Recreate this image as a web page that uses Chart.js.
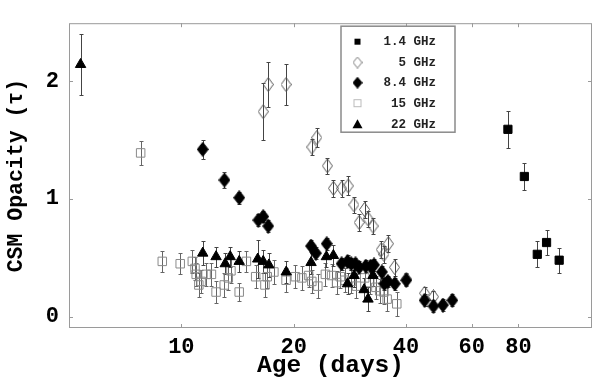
<!DOCTYPE html>
<html><head><meta charset="utf-8">
<script src="https://cdn.jsdelivr.net/npm/chart.js@4.4.1/dist/chart.umd.min.js"></script>
<style>html,body{margin:0;padding:0;background:#fff;}canvas{display:block;}</style>
</head><body>
<canvas id="c" width="600" height="381"></canvas>
<script>
// ---- tick labels ----
const xTicks = [10, 20, 40, 60, 80];
const yTicks = [0, 1, 2];
const seriesNames = ['1.4 GHz', '5 GHz', '8.4 GHz', '15 GHz', '22 GHz'];

// ---- 1.4 GHz ----
const days14 = [75.0, 83.0, 89.9, 95.2, 102.9];
const tau14  = [1.59, 1.19, 0.53, 0.63, 0.48];
const err14  = [0.155, 0.115, 0.11, 0.11, 0.105];

// ---- 5 GHz ----
const days5 = [16.57, 17.09, 19.08, 22.37, 23.06, 24.62, 25.55, 26.88, 28.0, 29.0, 29.95, 30.97, 31.64, 32.63, 34.32, 34.89, 35.86, 37.26, 40.06, 44.85, 47.38];
const tau5  = [1.74, 1.97, 1.97, 1.44, 1.52, 1.28, 1.09, 1.09, 1.11, 0.95, 0.80, 0.91, 0.83, 0.77, 0.57, 0.53, 0.62, 0.42, 0.32, 0.20, 0.17];
const err5  = [0.24, 0.19, 0.17, 0.07, 0.08, 0.07, 0.07, 0.07, 0.08, 0.07, 0.07, 0.07, 0.07, 0.07, 0.07, 0.07, 0.07, 0.07, 0.05, 0.05, 0.05];

// ---- 8.4 GHz ----
const days84 = [11.41, 13.05, 14.29, 16.08, 16.57, 17.09, 22.26, 22.93, 24.52, 26.88, 27.88, 28.52, 29.28, 29.95, 31.2, 32.17, 32.83, 34.47, 35.0, 35.76, 37.33, 40.06, 44.85, 47.38, 50.22, 53.22];
const tau84  = [1.42, 1.16, 1.01, 0.82, 0.85, 0.77, 0.60, 0.54, 0.62, 0.45, 0.47, 0.45, 0.45, 0.42, 0.43, 0.43, 0.44, 0.38, 0.28, 0.30, 0.28, 0.31, 0.14, 0.09, 0.10, 0.14];
const err84  = [0.08, 0.07, 0.05, 0.05, 0.05, 0.05, 0.05, 0.05, 0.05, 0.05, 0.05, 0.05, 0.05, 0.05, 0.05, 0.05, 0.05, 0.05, 0.05, 0.05, 0.05, 0.05, 0.05, 0.05, 0.05, 0.05];

// ---- 15 GHz ----
const days15 = [7.78, 8.89, 9.93, 10.70, 10.88, 10.96, 11.14, 11.30, 11.65, 12.04, 12.39, 13.03, 13.36, 13.58, 14.29, 14.94, 15.82, 16.75, 16.99, 17.70, 19.08, 20.21, 21.04, 21.93, 22.37, 23.21, 24.32, 25.27, 26.06, 26.66, 27.44, 28.57, 29.46, 31.0, 31.97, 33.22, 34.0, 34.89, 35.6, 37.78];
const tau15  = [1.39, 0.47, 0.45, 0.47, 0.41, 0.36, 0.27, 0.30, 0.36, 0.36, 0.21, 0.27, 0.33, 0.39, 0.21, 0.47, 0.34, 0.27, 0.34, 0.38, 0.31, 0.34, 0.33, 0.35, 0.30, 0.26, 0.36, 0.35, 0.29, 0.34, 0.31, 0.30, 0.26, 0.33, 0.29, 0.25, 0.22, 0.21, 0.15, 0.11];
const err15  = [0.10, 0.09, 0.09, 0.10, 0.10, 0.10, 0.10, 0.10, 0.10, 0.10, 0.09, 0.10, 0.10, 0.10, 0.08, 0.09, 0.10, 0.10, 0.10, 0.10, 0.10, 0.10, 0.10, 0.10, 0.10, 0.10, 0.10, 0.10, 0.10, 0.10, 0.10, 0.10, 0.10, 0.10, 0.10, 0.10, 0.10, 0.10, 0.10, 0.10];

// ---- 22 GHz ----
const days22 = [5.37, 11.41, 12.39, 13.11, 13.52, 14.29, 16.02, 16.57, 17.16, 19.10, 22.26, 24.47, 25.55, 27.88, 29.04, 30.88, 31.64, 32.63];
const tau22  = [2.14, 0.54, 0.51, 0.45, 0.51, 0.47, 0.49, 0.47, 0.44, 0.38, 0.46, 0.51, 0.52, 0.28, 0.35, 0.23, 0.15, 0.35];
const err22  = [0.26, 0.10, 0.085, 0.09, 0.085, 0.09, 0.16, 0.10, 0.10, 0.09, 0.10, 0.09, 0.09, 0.09, 0.10, 0.10, 0.10, 0.09];

const FONT = "'Liberation Mono', 'Courier New', monospace";
const pts = (xs, ys) => xs.map((d, i) => ({x: d, y: ys[i]}));

function diamondCanvas(w, h, fill, stroke) {
  const c = document.createElement('canvas'); c.width = w; c.height = h;
  const g = c.getContext('2d');
  g.beginPath(); g.moveTo(w/2, 0.5); g.lineTo(w-0.5, h/2); g.lineTo(w/2, h-0.5); g.lineTo(0.5, h/2); g.closePath();
  if (fill) { g.fillStyle = fill; g.fill(); }
  if (stroke) { g.strokeStyle = stroke; g.lineWidth = 1; g.stroke(); }
  return c;
}
const openDiamond = diamondCanvas(11, 15, null, '#555');
const solidDiamond = diamondCanvas(12, 15, '#000', '#000');

const extras = {
  id: 'extras',
  beforeDatasetsDraw(chart) {
    const ctx = chart.ctx, ys = chart.scales.y;
    chart.data.datasets.forEach((ds, i) => {
      if (!ds.errors) return;
      const meta = chart.getDatasetMeta(i);
      ctx.save();
      ctx.strokeStyle = ds.errorColor; ctx.lineWidth = 1;
      ctx.beginPath();
      meta.data.forEach((pt, j) => {
        const v = ds.data[j].y, e = ds.errors[j];
        const t = Math.round(ys.getPixelForValue(v + e)) + 0.5;
        const b = Math.round(ys.getPixelForValue(v - e)) + 0.5;
        const x = Math.round(pt.x) + 0.5;
        ctx.moveTo(x, t); ctx.lineTo(x, b);
        ctx.moveTo(x - 2, t); ctx.lineTo(x + 2, t);
        ctx.moveTo(x - 2, b); ctx.lineTo(x + 2, b);
      });
      ctx.stroke();
      ctx.restore();
    });
  },
  afterDraw(chart) {
    const ctx = chart.ctx, a = chart.chartArea, xs = chart.scales.x, ys = chart.scales.y;
    ctx.save();
    ctx.strokeStyle = '#9a9a9a'; ctx.lineWidth = 1;
    ctx.strokeRect(a.left + 0.5, a.top + 0.5, a.right - a.left - 1, a.bottom - a.top - 1);
    ctx.beginPath();
    xTicks.forEach(v => {
      const px = Math.round(xs.getPixelForValue(v)) + 0.5;
      ctx.moveTo(px, a.bottom); ctx.lineTo(px, a.bottom - 4);
      ctx.moveTo(px, a.top); ctx.lineTo(px, a.top + 4);
    });
    yTicks.forEach(v => {
      const py = Math.round(ys.getPixelForValue(v)) + 0.5;
      ctx.moveTo(a.left, py); ctx.lineTo(a.left + 4, py);
      ctx.moveTo(a.right, py); ctx.lineTo(a.right - 4, py);
    });
    ctx.stroke();

    // legend box
    const L = {x0: a.left + 272, y0: a.top + 3, x1: a.left + 386, y1: a.top + 109};
    ctx.fillStyle = '#fff';
    ctx.fillRect(L.x0, L.y0, L.x1 - L.x0, L.y1 - L.y0);
    ctx.strokeStyle = '#8a8a8a'; ctx.lineWidth = 1.5;
    ctx.strokeRect(L.x0, L.y0, L.x1 - L.x0, L.y1 - L.y0);
    const rows = [L.y0 + 15.5, L.y0 + 36.3, L.y0 + 56.5, L.y0 + 77, L.y0 + 98];
    const mx = L.x0 + 16.5;
    ctx.font = "bold 12.5px " + FONT;
    ctx.textAlign = 'right'; ctx.textBaseline = 'middle';
    seriesNames.forEach((name, i) => {
      const y = rows[i];
      ctx.fillStyle = '#222';
      ctx.fillText(name, L.x0 + 95, y + 0.5);
      ctx.lineWidth = 1;
      if (i === 0) { ctx.fillStyle = '#000'; ctx.fillRect(mx - 3, y - 3, 6, 6); }
      else if (i === 1) { ctx.drawImage(diamondCanvas(10, 12, null, '#777'), mx - 5, y - 6); }
      else if (i === 2) { ctx.drawImage(diamondCanvas(10, 12, '#000', '#000'), mx - 5, y - 6); }
      else if (i === 3) { ctx.strokeStyle = '#bbb'; ctx.strokeRect(mx - 3.5, y - 3.5, 7, 7); }
      else { ctx.fillStyle = '#000'; ctx.beginPath(); ctx.moveTo(mx, y - 5); ctx.lineTo(mx + 5, y + 4); ctx.lineTo(mx - 5, y + 4); ctx.closePath(); ctx.fill(); }
    });
    ctx.restore();
  }
};

new Chart(document.getElementById('c'), {
  type: 'scatter',
  data: {
    datasets: [
      { label: seriesNames[3], data: pts(days15, tau15), errors: err15, errorColor: '#666',
        pointStyle: 'rect', pointRadius: 6, backgroundColor: 'rgba(0,0,0,0)', borderColor: '#8a8a8a', borderWidth: 1, order: 5 },
      { label: seriesNames[1], data: pts(days5, tau5), errors: err5, errorColor: '#444',
        pointStyle: openDiamond, pointRadius: 7, backgroundColor: 'rgba(0,0,0,0)', borderColor: '#555', borderWidth: 1, order: 4 },
      { label: seriesNames[4], data: pts(days22, tau22), errors: err22, errorColor: '#444',
        pointStyle: 'triangle', pointRadius: 6, backgroundColor: '#000', borderColor: '#000', borderWidth: 1, order: 3 },
      { label: seriesNames[2], data: pts(days84, tau84), errors: err84, errorColor: '#444',
        pointStyle: solidDiamond, pointRadius: 7, backgroundColor: '#000', borderColor: '#000', borderWidth: 1, order: 2 },
      { label: seriesNames[0], data: pts(days14, tau14), errors: err14, errorColor: '#444',
        pointStyle: 'rect', pointRadius: 5.8, backgroundColor: '#000', borderColor: '#000', borderWidth: 1, order: 1 }
    ]
  },
  options: {
    responsive: false,
    animation: false,
    events: [],
    layout: { padding: { top: 4, right: 4, left: 0, bottom: 0 } },
    plugins: { legend: { display: false }, tooltip: { enabled: false } },
    scales: {
      x: {
        type: 'logarithmic', min: 5, max: 126,
        afterBuildTicks: s => { s.ticks = xTicks.map(v => ({value: v})); },
        afterFit: s => { s.height = 53; },
        grid: { display: false, drawTicks: false },
        border: { display: false },
        ticks: { autoSkip: false, maxRotation: 0, padding: 6, color: '#000',
          font: { family: FONT, size: 22, weight: 'bold' }, callback: v => String(v) },
        title: { display: true, text: 'Age (days)', color: '#000',
          font: { family: FONT, size: 24.5, weight: 'bold' }, padding: { top: 0, bottom: 0 } }
      },
      y: {
        min: -0.095, max: 2.49,
        afterBuildTicks: s => { s.ticks = yTicks.map(v => ({value: v})); },
        afterFit: s => { s.width = 69; },
        grid: { display: false, drawTicks: false },
        border: { display: false },
        ticks: { padding: 10, color: '#000', font: { family: FONT, size: 22, weight: 'bold' }, callback: v => String(v) },
        title: { display: true, text: 'CSM Opacity (τ)', color: '#000',
          font: { family: FONT, size: 21.5, weight: 'bold' }, padding: { top: 4, bottom: 4 } }
      }
    }
  },
  plugins: [extras]
});
</script>
</body></html>
